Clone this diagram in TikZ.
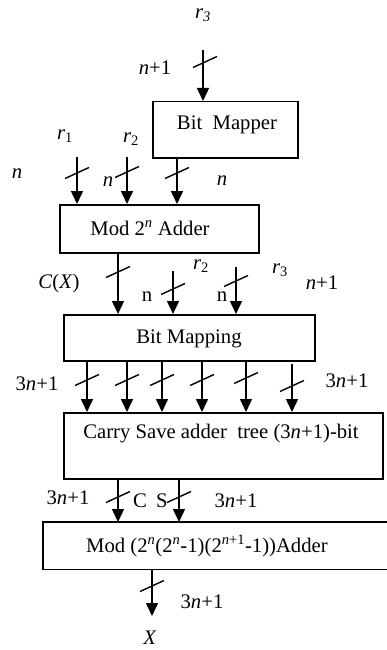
\documentclass[tikz,border=0pt]{standalone}
\usepackage{fontspec}
\setmainfont{Liberation Serif}
\usetikzlibrary{arrows.meta}
\newcommand{\iv}[1]{\textit{#1}}
\begin{document}
\begin{tikzpicture}[x=1pt,y=-1pt,
  font=\fontsize{20.7}{24}\selectfont,
  box/.style={draw,line width=1.5pt,inner sep=0pt,anchor=north west},
  lbl/.style={inner sep=0pt,anchor=center},
  arr/.style={line width=1.5pt,-{Triangle[length=13pt,width=12pt]}},
  busmark/.pic={\draw[line width=1.4pt] (-12,5.5) -- (12,-5.5);}]
\useasboundingbox (0,0) rectangle (386,650);
% boxes
\node[box,minimum width=145pt,minimum height=56pt] (bm) at (152,101) {};
\node[box,minimum width=199pt,minimum height=48pt] (mod) at (59,204) {};
\node[box,minimum width=251pt,minimum height=46pt] (bmap) at (63,314) {};
\node[box,minimum width=319pt,minimum height=66pt] (csa) at (63,412) {};
\node[inner sep=0pt,anchor=north west,minimum width=350pt,minimum height=47pt] (fin) at (43,522) {};
\draw[line width=1.5pt] (fin.north east) -- (fin.north west) -- (fin.south west) -- (fin.south east);
% box texts
\node[lbl] (bmT) at (227,125) {Bit\ \ Mapper};
\node[lbl] (modT) at (150,228) {Mod 2\textsuperscript{\iv{n}} Adder};
\node[lbl] (bmapT) at (189,339) {Bit Mapping};
\node[lbl] (csaT) at (221,434) {Carry Save adder\ \ tree (3\iv{n}+1)-bit};
\node[lbl] (finT) at (207,546) {Mod (2\textsuperscript{\iv{n}}(2\textsuperscript{\iv{n}}-1)(2\textsuperscript{\iv{n}+1}-1))Adder};
% start coordinates
\coordinate (s1) at (203,50);
\coordinate (s2) at (77,157);
\coordinate (s3) at (127,157);
\coordinate (s4) at (177,157);
\coordinate (s5) at (118,252);
\coordinate (s6) at (173,271);
\coordinate (s7) at (236,267);
\coordinate (t1) at (87,360);
\coordinate (t2) at (127,360);
\coordinate (t3) at (162,360);
\coordinate (t4) at (202,360);
\coordinate (t5) at (246,360);
\coordinate (t6) at (292,364);
\coordinate (u1) at (118,478);
\coordinate (u2) at (179,478);
\coordinate (v1) at (152,569);
\coordinate (vend) at (152,616);
% arrows
\draw[arr] (s1) -- (s1 |- bm.north);
\draw[arr] (s2) -- (s2 |- mod.north);
\draw[arr] (s3) -- (s3 |- mod.north);
\draw[arr] (s4) -- (s4 |- mod.north);
\draw[arr] (s5) -- (s5 |- bmap.north);
\draw[arr] (s6) -- (s6 |- bmap.north);
\draw[arr] (s7) -- (s7 |- bmap.north);
\foreach \t in {t1,t2,t3,t4,t5,t6} {\draw[arr] (\t) -- (\t |- csa.north);}
\draw[arr] (u1) -- (u1 |- fin.north);
\draw[arr] (u2) -- (u2 |- fin.north);
\draw[arr] (v1) -- (vend);
% bus marks
\pic at (205,62) {busmark};
\pic at (77,173) {busmark};
\pic at (127,172) {busmark};
\pic at (177,173) {busmark};
\pic at (118,272) {busmark};
\pic at (173,289) {busmark};
\pic at (236,281) {busmark};
\pic at (87,380) {busmark};
\pic at (127,380) {busmark};
\pic at (162,380) {busmark};
\pic at (202,380) {busmark};
\pic at (246,378) {busmark};
\pic at (292,386) {busmark};
\pic at (118,497) {busmark};
\pic at (179,497) {busmark};
\pic at (152,586) {busmark};
% labels
\node[lbl] (l1) at (203,15) {\iv{r}\textsubscript{\iv{3}}};
\node[lbl] (l2) at (155,68) {\iv{n}+1};
\node[lbl] (l3) at (65,136) {\iv{r}\textsubscript{1}};
\node[lbl] (l4) at (131,139) {\iv{r}\textsubscript{2}};
\node[lbl] (l5) at (17,174) {\iv{n}};
\node[lbl] (l6) at (108,182) {\iv{n}};
\node[lbl] (l7) at (222,181) {\iv{n}};
\node[lbl] (l8) at (59,284) {\iv{C}(\iv{X})};
\node[lbl] (l9) at (201,266) {\iv{r}\textsubscript{2}};
\node[lbl] (l10) at (280,270) {\iv{r}\textsubscript{3}};
\node[lbl] (l11) at (322,283) {\iv{n}+1};
\node[lbl] (l12) at (147,297) {n};
\node[lbl] (l13) at (222,297) {n};
\node[lbl] (l14) at (37,384) {3\iv{n}+1};
\node[lbl] (l15) at (347,381) {3\iv{n}+1};
\node[lbl] (l16) at (68,498) {3\iv{n}+1};
\node[lbl] (l17) at (140,501) {C};
\node[lbl] (l18) at (162,501) {S};
\node[lbl] (l19) at (236,501) {3\iv{n}+1};
\node[lbl] (l20) at (202,602) {3\iv{n}+1};
\node[lbl] (l21) at (150,638) {\iv{X}};
\end{tikzpicture}
\end{document}
